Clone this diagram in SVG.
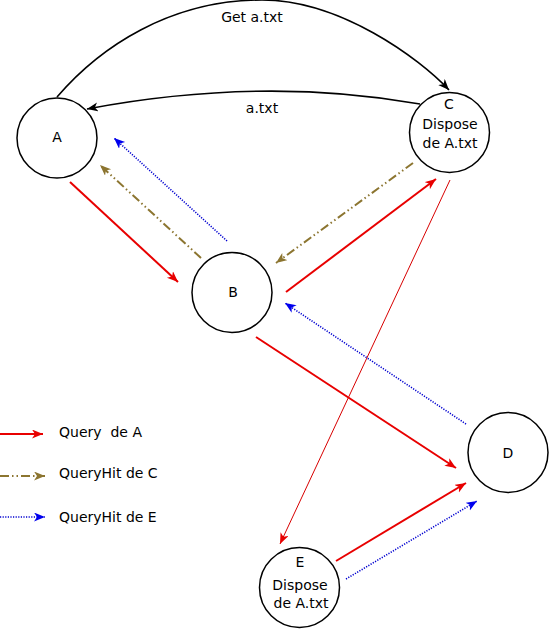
<svg xmlns="http://www.w3.org/2000/svg" width="550" height="629" viewBox="0 0 550 629">
<style>
text{font-family:"DejaVu Sans","Liberation Sans",sans-serif;font-size:14px;fill:#000}
.c{text-anchor:middle}
.node{fill:#fff;stroke:#000;stroke-width:1.5}
.blk{fill:none;stroke:#000;stroke-width:1.6}
.red{fill:none;stroke:#e80000;stroke-width:2}
.thin{fill:none;stroke:#d80000;stroke-width:1}
.brn{fill:none;stroke:#8c7530;stroke-width:2;stroke-dasharray:9 3 1.5 3 1.5 3}
.blu{fill:none;stroke:#0000d0;stroke-width:1.6;stroke-dasharray:1.2 1.4}
</style>
<defs>
<marker id="mk" markerUnits="userSpaceOnUse" markerWidth="12" markerHeight="10" refX="11" refY="4.5" orient="auto"><path d="M0,0 L11,4.5 L0,9 L3,4.5 z" fill="#000"/></marker>
<marker id="mr" markerUnits="userSpaceOnUse" markerWidth="12" markerHeight="10" refX="11" refY="4.5" orient="auto"><path d="M0,0 L11,4.5 L0,9 L3,4.5 z" fill="#e80000"/></marker>
<marker id="mb" markerUnits="userSpaceOnUse" markerWidth="12" markerHeight="10" refX="11" refY="4.5" orient="auto"><path d="M0,0 L11,4.5 L0,9 L3,4.5 z" fill="#8c7530"/></marker>
<marker id="mu" markerUnits="userSpaceOnUse" markerWidth="12" markerHeight="10" refX="11" refY="4.5" orient="auto"><path d="M0,0 L11,4.5 L0,9 L3,4.5 z" fill="#0000ee"/></marker>
</defs>
<g id="connectors">
<path class="blk" d="M57,97 C100,47 170,0 262,0 C340,0 419,58 449,90" marker-end="url(#mk)"/>
<path class="blk" d="M420,104 Q262,76 87,109" marker-end="url(#mk)"/>
<path class="red" d="M70,182 L178,282" marker-end="url(#mr)"/>
<path class="brn" d="M201,258 L100,165" marker-end="url(#mb)"/>
<path class="blu" d="M227,241 L114,138" marker-end="url(#mu)"/>
<path class="brn" d="M413,163 L276,263" marker-end="url(#mb)"/>
<path class="red" d="M286,292 L436,179" marker-end="url(#mr)"/>
<path class="thin" d="M450,180 L280,544" marker-end="url(#mr)"/>
<path class="blu" d="M466,424 L285,303" marker-end="url(#mu)"/>
<path class="red" d="M256,337 L456,468" marker-end="url(#mr)"/>
<path class="red" d="M336,561 L466,483" marker-end="url(#mr)"/>
<path class="blu" d="M346,579 L477,501" marker-end="url(#mu)"/>
<text class="c" x="252" y="22">Get a.txt</text>
<text class="c" x="262" y="113">a.txt</text>
</g>
<g id="A"><circle class="node" cx="57" cy="138" r="40"/><text class="c" x="57" y="142">A</text></g>
<g id="B"><circle class="node" cx="232" cy="292.5" r="40"/><text class="c" x="233" y="297">B</text></g>
<g id="C"><circle class="node" cx="449.5" cy="132.5" r="40"/><text class="c" x="449" y="109">C</text><text class="c" x="450" y="129">Dispose</text><text class="c" x="450" y="148">de A.txt</text></g>
<g id="D"><circle class="node" cx="508" cy="452.5" r="40"/><text class="c" x="508" y="458">D</text></g>
<g id="E"><circle class="node" cx="299.5" cy="587.5" r="40"/><text class="c" x="300" y="567">E</text><text class="c" x="300" y="590">Dispose</text><text class="c" x="301" y="608">de A.txt</text></g>
<g id="legend">
<path class="red" d="M0,434 L43,434" marker-end="url(#mr)"/>
<path class="brn" d="M0,476 L45,476" marker-end="url(#mb)"/>
<path class="blu" d="M0,517 L45,517" marker-end="url(#mu)"/>
<text x="59" y="437" xml:space="preserve">Query  de A</text>
<text x="59" y="478">QueryHit de C</text>
<text x="59" y="522">QueryHit de E</text>
</g>
</svg>
